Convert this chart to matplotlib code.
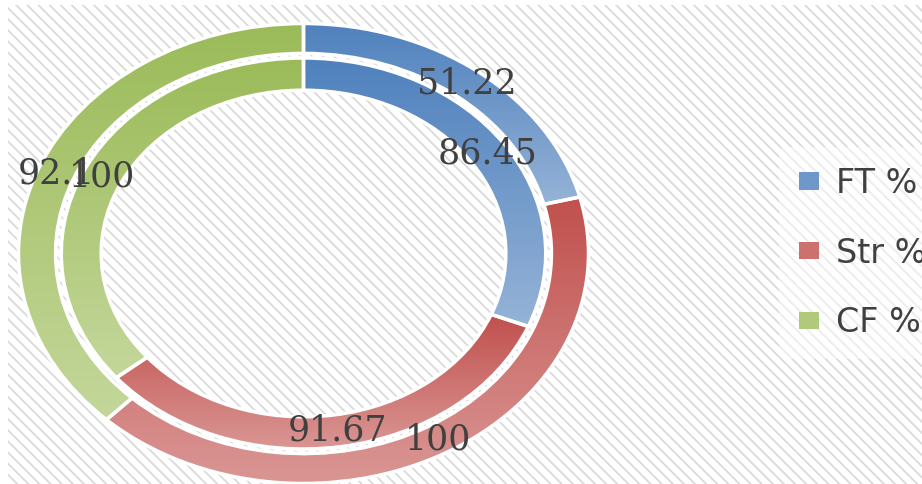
import matplotlib
matplotlib.use("Agg")
import matplotlib.pyplot as plt
import numpy as np
from matplotlib.patches import Rectangle, Patch
from matplotlib.colors import to_rgb

# data
categories = ['FT %', 'Str %', 'CF %']
outer_values = [51.22, 100, 92.1]
inner_values = [86.45, 91.67, 100]

# top (dark) and bottom (light) colours of the gradient fill
dark_colors = ['#4F81BD', '#C0504D', '#9BBB59']
light_colors = ['#95B3D7', '#DA9694', '#C4D79B']

plt.rcParams['hatch.linewidth'] = 1.3

W, H = 922, 484
fig = plt.figure(figsize=(W / 100, H / 100), dpi=100)
fig.patch.set_facecolor('white')

# hatched chart background
bg = Rectangle((8 / W, 0), 1 - 8 / W, (H - 5) / H, transform=fig.transFigure,
               facecolor='white', edgecolor='#dadada', hatch='\\\\\\', lw=0, zorder=0)
fig.add_artist(bg)

# doughnut axes, stretched like the original picture
cx, cy, rx, ry = 303.5, 253.5, 285, 230
ax = fig.add_axes([(cx - rx) / W, (H - cy - ry) / H, 2 * rx / W, 2 * ry / H])
ax.set_facecolor('none')


def gradient_fill(wedges):
    # vertical gradient per segment, clipped to the wedge shape
    for w, dc, lc in zip(wedges, dark_colors, light_colors):
        ext = w.get_path().get_extents()
        c0, c1 = np.array(to_rgb(dc)), np.array(to_rgb(lc))
        t = np.linspace(0, 1, 256)[:, None, None]
        img = c0 * (1 - t) + c1 * t
        im = ax.imshow(img, extent=(ext.x0, ext.x1, ext.y0, ext.y1), origin='upper',
                       aspect='auto', interpolation='bilinear', zorder=1)
        im.set_clip_path(w)
        w.set_facecolor('none')
        w.set_zorder(2)


outer, _ = ax.pie(outer_values, radius=1.0, startangle=90, counterclock=False,
                  wedgeprops=dict(width=0.13, edgecolor='white', linewidth=2.5))
inner, _ = ax.pie(inner_values, radius=0.85, startangle=90, counterclock=False,
                  wedgeprops=dict(width=0.14, edgecolor='white', linewidth=2.5))
gradient_fill(outer)
gradient_fill(inner)


def add_labels(wedges, values, r):
    for w, v in zip(wedges, values):
        ang = np.deg2rad((w.theta1 + w.theta2) / 2)
        ax.text(r * np.cos(ang), r * np.sin(ang), f'{v:g}', ha='center', va='center',
                fontsize=25, family='DejaVu Serif', color='#404040', zorder=5)


add_labels(outer, outer_values, 0.935)
add_labels(inner, inner_values, 0.78)

ax.set_aspect('auto')
ax.set_xlim(-1, 1)
ax.set_ylim(-1, 1)
ax.axis('off')

handles = [Patch(facecolor=c, edgecolor='white', lw=0) for c in
           ['#7097C9', '#CD716F', '#B0C97A']]
leg = fig.legend(handles, categories, loc='center left',
                 bbox_to_anchor=(779 / W, 231 / H), frameon=True,
                 prop=dict(family='DejaVu Sans', size=24), labelcolor='#404040',
                 handlelength=0.6, handleheight=0.42, handletextpad=0.5,
                 labelspacing=1.1, borderpad=0.6, borderaxespad=0)
leg.get_frame().set_facecolor('white')
leg.get_frame().set_alpha(0.5)
leg.get_frame().set_edgecolor('none')

plt.savefig('out.png', dpi=100)
